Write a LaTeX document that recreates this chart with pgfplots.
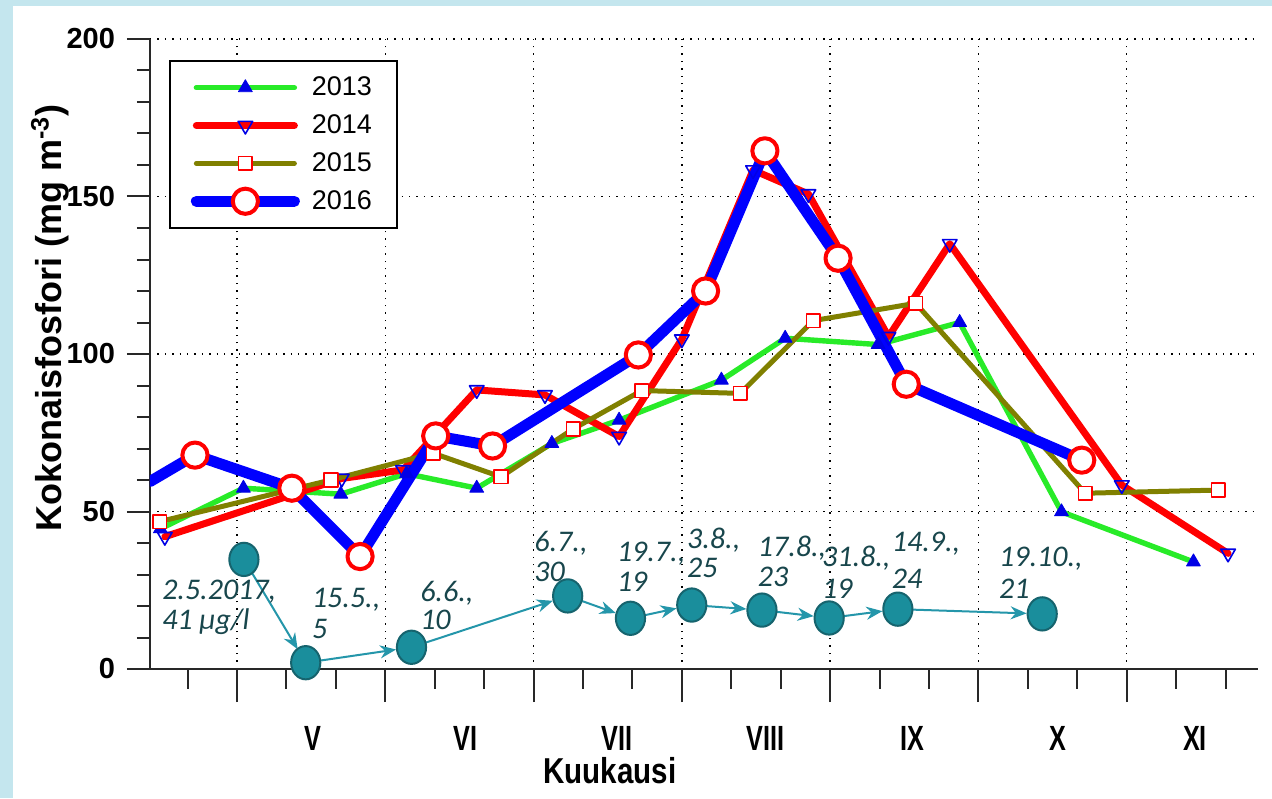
\documentclass[border=0pt]{standalone}
\usepackage{fontspec}
\setmainfont{Liberation Sans}
\newfontfamily\narrowfont{Liberation Sans}[FakeStretch=0.72]
\newfontfamily\kufont{Liberation Sans}[FakeStretch=0.82]
\newfontfamily\labfont{Carlito}
\usepackage{pgfplots}
\pgfplotsset{compat=1.18}
\usetikzlibrary{arrows.meta}

\definecolor{c13}{RGB}{40,235,40}
\definecolor{c14}{RGB}{255,0,0}
\definecolor{c15}{RGB}{128,128,0}
\definecolor{c16}{RGB}{0,0,255}
\definecolor{mblue}{RGB}{0,0,230}
\definecolor{tfill}{RGB}{26,142,156}
\definecolor{tedge}{RGB}{22,100,110}
\definecolor{tarrow}{RGB}{36,150,170}
\definecolor{ttext}{RGB}{24,70,76}
\definecolor{bgblue}{RGB}{196,230,238}
\definecolor{axgray}{RGB}{40,40,40}

\tikzset{lab/.style={anchor=base west, inner sep=0pt, text=ttext,
  font=\labfont\itshape\fontsize{15}{17}\selectfont}}

\begin{document}
\begin{tikzpicture}
\useasboundingbox (-75pt,-64.5pt) rectangle (561pt,334.5pt);
\fill[bgblue] (-75pt,-64.5pt) rectangle (561pt,334.5pt);
\fill[white] (-68.5pt,-64.5pt) rectangle (561pt,331.5pt);
\begin{axis}[
  at={(0pt,0pt)}, anchor=south west,
  scale only axis, width=554pt, height=315pt,
  xmin=102.4, xmax=326.56, ymin=0, ymax=200,
  axis lines*=left,
  axis line style={line width=1.3pt, axgray},
  tick align=outside,
  xtick={120,150,...,300}, xticklabels={,,,,,,,},
  minor xtick={110,130,140,160,170,190,200,220,230,250,260,280,290,310,320},
  ytick={0,50,...,200}, yticklabels={0,50,100,150,200},
  minor ytick={10,20,30,40,60,70,80,90,110,120,130,140,160,170,180,190},
  major tick length=11.5pt, minor tick length=6.5pt,
  xtick style={/pgfplots/major tick length=16.5pt,/pgfplots/minor tick length=9.75pt},
  tick style={line width=1pt, axgray},
  grid=major,
  major grid style={black, line width=0.7pt, dash pattern=on 0.7pt off 3pt},
  yticklabel style={font=\bfseries\fontsize{14.5}{17}\selectfont, xshift=-2.5pt},
  extra x ticks={135.4,166.3,196.9,227,256.6,286,313.8},
  extra x tick labels={V,VI,VII,VIII,IX,X,XI},
  extra x tick style={grid=none, major tick length=0pt,
    xtick style={/pgfplots/major tick length=0pt, draw=none},
    tick style={draw=none},
    xticklabel style={font=\narrowfont\bfseries\fontsize{17.5}{20}\selectfont,
      anchor=base, yshift=-40.5pt}},
  ylabel={Kokonaisfosfori (mg m\textsuperscript{-3})},
  ylabel style={at={(axis description cs:-0.0903,0.557)}, anchor=center,
    font=\bfseries\fontsize{18}{20}\selectfont},
  xlabel={Kuukausi},
  xlabel style={at={(axis description cs:0.415,-0.181)}, anchor=base,
    font=\kufont\bfseries\fontsize{18}{20}\selectfont},
  legend image code/.code={\draw[#1, mark indices={2}]
    plot coordinates {(0pt,0pt) (24.5pt,0pt) (49pt,0pt)};},
  legend style={at={(0.0174,0.9667)}, anchor=north west, draw=black,
    line width=0.8pt, fill=white, inner xsep=10.4pt, inner ysep=6pt,
    row sep=4pt, column sep=4pt,
    font=\fontsize{13.5}{16}\selectfont},
  legend cell align=left,
  every axis plot/.append style={line cap=round, line join=round},
]

% 2013
\addplot[c13, line width=2.7pt, mark=triangle*, mark size=4pt,
  mark options={solid, fill=mblue, draw=mblue, line width=0.4pt}]
coordinates {
(104.5,44.5) (121.3,57.4) (141.0,55.5) (154.3,62.0) (168.5,57.4)
(183.7,71.6) (197.3,79.0) (218.0,91.7) (230.9,105.0) (249.7,103.0)
(266.2,110.0) (286.8,49.9) (313.5,34.0)
};
\addlegendentry{2013}

% 2014
\addplot[c14, line width=3.5pt, mark=triangle, mark size=4.2pt,
  mark options={solid, fill=white, draw=mblue, line width=0.8pt, rotate=180}]
coordinates {
(105.4,42.0) (141.2,60.5) (153.6,63.2) (168.5,88.6) (182.3,87.0)
(197.3,73.8) (210.0,104.7) (224.4,158.4) (235.6,150.8) (251.8,105.5)
(264.2,135.0) (299.0,58.4) (320.5,36.7)
};
\addlegendentry{2014}

% 2015
\addplot[c15, line width=2.5pt, mark=square*, mark size=3.4pt,
  mark options={solid, fill=white, draw=red, line width=0.8pt}]
coordinates {
(104.4,46.8) (139.0,60.0) (159.7,68.5) (173.4,61.0) (188.0,76.2)
(201.9,88.4) (221.8,87.5) (236.6,110.6) (257.3,116.1) (291.6,55.8)
(318.5,56.8)
};
\addlegendentry{2015}

% 2016
\addplot[c16, line width=5.5pt, mark=*, mark size=6.3pt,
  mark indices={2,3,4,5,6,7,8,9,10,11,12},
  mark options={solid, fill=white, draw=red, line width=2pt}]
coordinates {
(102.4,59.5) (111.5,67.9) (131.1,57.4) (144.9,35.7) (160.2,74.0)
(171.7,70.8) (201.2,99.7) (214.8,120.0) (226.8,164.5) (241.6,130.4)
(255.4,90.4) (290.9,66.3)
};
\addlegendentry{2016}

% 2017 sampling, arrows between dates
\addplot[forget plot, tarrow, line width=1pt,
  quiver={u=\thisrow{u}, v=\thisrow{v},
    every arrow/.append style={-{Stealth[length=8pt,width=6.5pt]}, shorten >=7.8pt}}]
table {
x y u v
121.4 34.8 12.5 -32.8
133.9 2.0 21.4 4.9
155.3 6.9 31.6 16.3
186.9 23.2 12.7 -7.1
199.6 16.1 12.4 4.2
212.0 20.3 14.2 -1.6
226.2 18.7 13.6 -2.5
239.8 16.2 13.9 2.8
253.7 19.0 29.2 -1.5
};

\addplot[forget plot, only marks, mark=*, mark size=7.3pt,
  mark options={fill=tfill, draw=tedge, line width=1pt, yscale=1.14}]
coordinates {
(121.4,34.8) (133.9,2.0) (155.3,6.9) (186.9,23.2) (199.6,16.1)
(212.0,20.3) (226.2,18.7) (239.8,16.2) (253.7,19.0) (282.9,17.5)
};

\node[lab] at (axis cs:104.8,22.1) {2.5.2017,};
\node[lab] at (axis cs:104.8,12.4) {41 µg/l};
\node[lab] at (axis cs:135.1,19.4) {15.5.,};
\node[lab] at (axis cs:135.1,9.8) {5};
\node[lab] at (axis cs:157.0,21.4) {6.6.,};
\node[lab] at (axis cs:157.0,12.4) {10};
\node[lab] at (axis cs:180.1,37.2) {6.7.,};
\node[lab] at (axis cs:180.1,27.7) {30};
\node[lab] at (axis cs:196.8,34.1) {19.7.,};
\node[lab] at (axis cs:196.8,24.5) {19};
\node[lab] at (axis cs:211.0,38.4) {3.8.,};
\node[lab] at (axis cs:211.0,28.9) {25};
\node[lab] at (axis cs:225.3,35.7) {17.8.,};
\node[lab] at (axis cs:225.3,26.1) {23};
\node[lab] at (axis cs:238.3,32.5) {31.8.,};
\node[lab] at (axis cs:238.3,22.5) {19};
\node[lab] at (axis cs:252.4,37.2) {14.9.,};
\node[lab] at (axis cs:252.4,25.6) {24};
\node[lab] at (axis cs:274.1,32.5) {19.10.,};
\node[lab] at (axis cs:274.1,22.5) {21};
\end{axis}
\end{tikzpicture}
\end{document}
